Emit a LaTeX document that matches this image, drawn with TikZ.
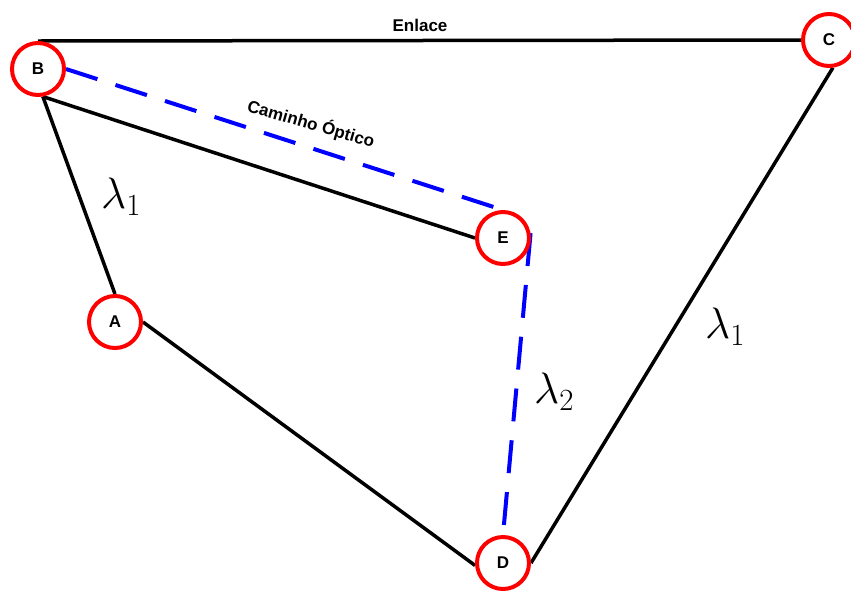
\documentclass[tikz,border=0pt]{standalone}
\usepackage{fix-cm}
\usepackage{fontspec}
\setsansfont{Liberation Sans}
\usetikzlibrary{positioning,backgrounds}

\begin{document}
\begin{tikzpicture}[
    x=1pt, y=-1pt,
    site/.style={circle, draw=red, line width=4pt, fill=white, minimum size=52pt,
                 inner sep=0pt, font=\sffamily\bfseries\fontsize{17}{17}\selectfont},
    link/.style={black, line width=3.5pt},
    lpath/.style={blue, line width=4pt, dash pattern=on 33pt off 19pt},
    lbl/.style={font=\sffamily\bfseries\fontsize{17}{17}\selectfont},
    wl/.style={font=\fontsize{44}{44}\selectfont}
]
\useasboundingbox (0,0) rectangle (851,590);
\node[site] (B) at (38,69) {B};
\node[site] (C) at (829,40) {C};
\node[site] (E) at (503,238) {E};
\node[site] (A) at (115,322) {A};
\node[site] (D) at (503,563) {D};
\begin{scope}[on background layer]
\draw[link] (B.north) -- (C.west);
\draw[link] (B.280) -- (A.north);
\draw[link] (B.280) -- (E.west);
\draw[link] (A.east) -- (D.185);
\draw[link] (D.east) -- (C.278);
\draw[lpath] (B.east) -- (E.north);
\draw[lpath] (E.10) -- (D.north);
\end{scope}
\node[lbl] (enlace) at (420,25) {Enlace};
\node[lbl, rotate=-16] (caminho) at (311,124) {Caminho Óptico};
\node[wl] (l1a) at (121,197) {$\lambda_1$};
\node[wl] (l2) at (554,392) {$\lambda_2$};
\node[wl] (l1b) at (725,327) {$\lambda_1$};
\end{tikzpicture}
\end{document}
